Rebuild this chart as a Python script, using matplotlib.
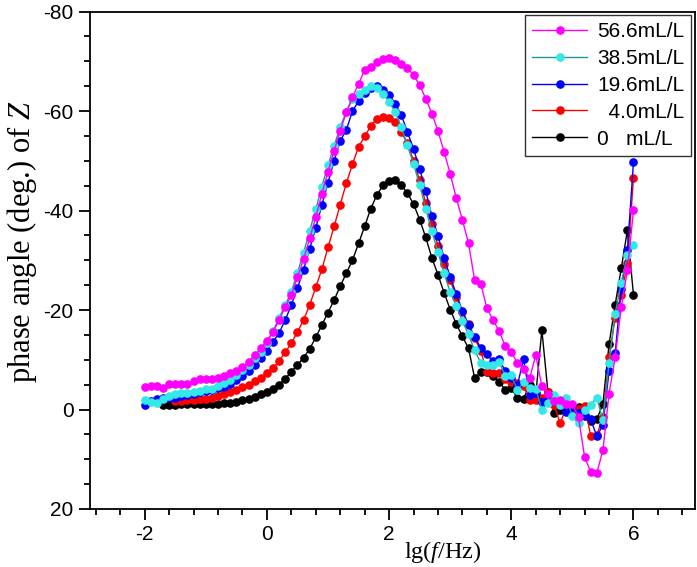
import numpy as np
import matplotlib
matplotlib.use("Agg")
import matplotlib.pyplot as plt
from matplotlib.ticker import MultipleLocator

plt.rcParams['font.family'] = ['Liberation Sans', 'DejaVu Sans']
plt.rcParams['axes.unicode_minus'] = False
plt.rcParams['mathtext.fontset'] = 'custom'
plt.rcParams['mathtext.rm'] = 'Liberation Serif'
plt.rcParams['mathtext.it'] = 'Liberation Serif:italic'

# ------------------------------------------------------------------
# data: phase angle (deg.) vs lg(f/Hz), 10 points per decade
# ------------------------------------------------------------------
lg_f = np.round(np.linspace(-2.0, 6.0, 81), 1)

phase_566 = [
    -4.6, -4.8, -4.8, -4.4, -5.1, -5.2, -5.2, -5.1, -5.8, -6.1,
    -6.1, -6.2, -6.3, -6.7, -7.3, -7.8, -8.6, -9.6, -10.9, -12.3,
    -13.8, -15.6, -18.0, -20.6, -23.0, -26.6, -30.2, -34.4, -38.7, -43.4,
    -47.8, -52.0, -56.0, -59.8, -62.8, -65.4, -68.3, -68.9, -69.9, -70.4,
    -70.7, -70.3, -69.5, -68.7, -67.2, -65.2, -62.5, -59.5, -56.0, -51.8,
    -47.4, -42.5, -38.1, -33.4, -26.0, -25.3, -20.4, -18.0, -15.8, -12.8,
    -11.6, -9.3, -8.2, -6.3, -10.9, -4.7, -3.2, -1.8, -2.0, -1.1,
    -1.1, 1.5, 9.6, 12.5, 12.7, 8.2, -3.2, -10.5, -20.6, -28.0,
    -40.1,
]
phase_385 = [
    -1.9, -1.5, -1.3, -2.1, -2.7, -3.1, -3.4, -3.4, -3.6, -3.8,
    -4.1, -4.2, -4.7, -5.4, -6.0, -6.9, -7.9, -8.9, -10.3, -11.6,
    -13.3, -15.8, -18.4, -21.0, -23.6, -27.5, -31.5, -35.9, -40.3, -44.8,
    -49.1, -53.0, -56.8, -59.8, -62.4, -63.5, -64.3, -65.0, -64.7, -63.5,
    -61.9, -59.8, -56.8, -53.1, -49.4, -45.1, -40.4, -35.8, -31.7, -27.4,
    -23.6, -20.8, -17.8, -15.1, -11.9, -9.4, -8.9, -8.9, -9.6, -6.8,
    -6.9, -3.9, -5.5, -4.4, -4.2, 0.1, -1.4, -2.9, -1.0, -2.4,
    1.4, 2.8, 0.0, -0.9, -2.4, 2.2, -9.4, -19.3, -25.5, -31.0,
    -33.0,
]
phase_196 = [
    -1.0, -1.8, -2.2, -2.3, -2.4, -2.3, -2.7, -2.9, -3.2, -3.5,
    -3.7, -4.0, -4.3, -4.6, -5.2, -5.9, -6.8, -7.8, -8.9, -10.3,
    -11.8, -13.6, -15.4, -18.0, -21.0, -24.4, -28.1, -32.3, -36.5, -41.1,
    -45.6, -50.0, -54.0, -56.2, -60.0, -62.0, -63.6, -64.7, -65.0, -64.3,
    -63.3, -61.5, -59.2, -55.8, -52.4, -48.4, -43.9, -38.9, -34.9, -30.5,
    -26.7, -23.2, -19.8, -17.0, -14.6, -12.4, -11.1, -9.7, -10.1, -7.8,
    -6.4, -4.9, -10.1, -2.9, -3.4, -1.5, -2.0, -1.8, -0.9, 0.5,
    -0.5, 0.8, 1.1, 2.0, 5.4, 3.1, -7.7, -11.3, -24.3, -32.0,
    -49.8,
]
# 4.0 mL/L starts at lg f = -1.5
phase_40 = [
    -1.7, -1.7, -1.9, -1.9, -2.1,
    -2.2, -2.4, -2.7, -3.1, -3.6, -4.0, -4.5, -5.0, -5.7, -6.4,
    -7.3, -8.3, -9.8, -11.5, -13.3, -15.6, -18.0, -21.0, -24.6, -28.2,
    -32.6, -36.8, -41.2, -45.5, -49.3, -52.8, -54.9, -57.0, -58.5, -58.8,
    -58.7, -57.8, -55.8, -53.5, -50.0, -46.1, -41.5, -37.2, -32.9, -29.2,
    -26.0, -22.6, -19.6, -17.2, -14.3, -11.8, -7.6, -7.4, -7.4, -6.2,
    -5.6, -5.4, -4.8, -1.9, -2.0, -2.3, -3.6, -0.9, 2.8, -0.5,
    0.3, -0.2, -0.8, 5.3, 5.1, 1.5, -10.5, -18.5, -23.0, -29.4,
    -46.6,
]
# 0 mL/L starts at lg f = -1.7
phase_0 = [
    -0.9, -1.0, -1.0, -1.1, -1.1, -1.1, -1.1,
    -1.1, -1.2, -1.2, -1.3, -1.4, -1.6, -1.9, -2.2, -2.6, -3.1,
    -3.6, -4.2, -5.0, -6.2, -7.6, -9.0, -10.4, -12.2, -14.5, -17.0,
    -19.5, -22.0, -24.8, -27.4, -30.0, -33.4, -36.8, -40.4, -43.1, -45.1,
    -45.9, -46.1, -45.1, -43.5, -41.3, -38.2, -34.6, -30.5, -27.1, -23.5,
    -20.1, -17.2, -14.7, -12.3, -6.3, -7.6, -7.5, -6.7, -5.6, -4.0,
    -4.3, -2.3, -2.2, -4.9, -2.8, -16.0, -3.5, 0.7, 0.0, -0.2,
    0.2, -0.5, 1.3, 2.3, 2.0, -1.2, -13.1, -21.1, -28.4, -36.0,
    -23.0,
]

labels = ['56.6mL/L', '38.5mL/L', '19.6mL/L', '  4.0mL/L', '0   mL/L']

series = [
    (lg_f, phase_566, '#FF00FF', '#FF00FF'),
    (lg_f, phase_385, '#1A9A9A', '#33E8E8'),
    (lg_f, phase_196, '#0000FF', '#0000FF'),
    (lg_f[5:], phase_40, '#FF0000', '#FF0000'),
    (lg_f[3:], phase_0, '#000000', '#000000'),
]
for x, y, _, _ in series:
    assert len(x) == len(y), (len(x), len(y))

# ------------------------------------------------------------------
# plot
# ------------------------------------------------------------------
fig = plt.figure(figsize=(6.97, 5.67), dpi=100)
ax = fig.add_axes([89.7 / 697, 1 - 509 / 567,
                   (694.6 - 89.7) / 697, (509 - 11.6) / 567])

handles = [None] * len(series)
for i in reversed(range(len(series))):
    x, y, lc, mc = series[i]
    h, = ax.plot(x, y, '-', color=lc, lw=1.0, marker='o', ms=5.2,
                 mfc=mc, mec=mc, label=labels[i])
    handles[i] = h

ax.set_xlim(-2.9, 7.0)
ax.set_ylim(20, -80)
ax.xaxis.set_major_locator(MultipleLocator(2))
ax.xaxis.set_minor_locator(MultipleLocator(0.4))
ax.yaxis.set_major_locator(MultipleLocator(20))
ax.yaxis.set_minor_locator(MultipleLocator(5))
ax.tick_params(which='both', direction='out', top=False, right=False,
               width=1.3, labelsize=15)
ax.tick_params(which='major', length=8)
ax.tick_params(which='minor', length=4.5)
for sp in ax.spines.values():
    sp.set_linewidth(1.3)

fig.text(443 / 697, 1 - 552 / 567, r'lg($\mathit{f}$/Hz)',
         family='Liberation Serif', fontsize=17.5, ha='center', va='center')
fig.text(22 / 697, 1 - 242 / 567, r'phase angle (deg.) of $\mathit{Z}$',
         family='Liberation Serif', fontsize=22, ha='center', va='center',
         rotation=90)

leg = ax.legend(handles=handles, loc='upper right', fontsize=15,
                frameon=True, fancybox=False, borderaxespad=0.15,
                handlelength=2.6, handletextpad=0.5, labelspacing=0.38,
                borderpad=0.35)
leg.get_frame().set_edgecolor('black')
leg.get_frame().set_linewidth(1.0)

fig.savefig('out.png', dpi=100)
